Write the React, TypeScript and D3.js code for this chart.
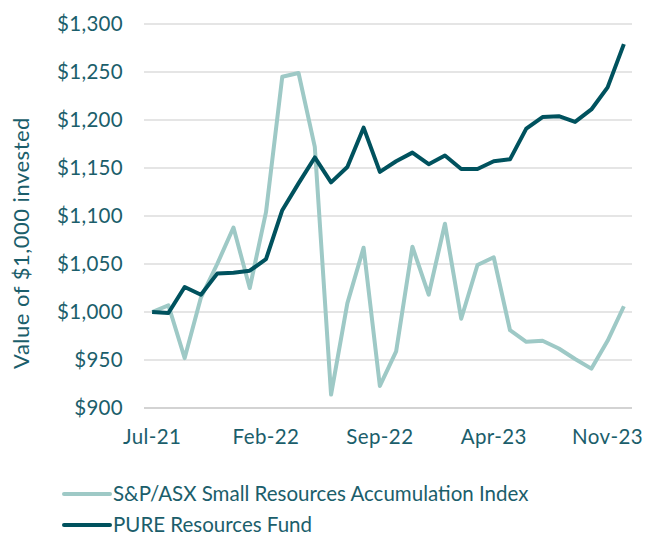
import React from "react";
import * as d3 from "d3";

const months = [
  "Jul-21","Aug-21","Sep-21","Oct-21","Nov-21","Dec-21",
  "Jan-22","Feb-22","Mar-22","Apr-22","May-22","Jun-22",
  "Jul-22","Aug-22","Sep-22","Oct-22","Nov-22","Dec-22",
  "Jan-23","Feb-23","Mar-23","Apr-23","May-23","Jun-23",
  "Jul-23","Aug-23","Sep-23","Oct-23","Nov-23","Dec-23",
];
const tickLabels = ["Jul-21", "Feb-22", "Sep-22", "Apr-23", "Nov-23"];
const indexValues = [
  1000, 1007, 952, 1015, 1050, 1088, 1025, 1104, 1245, 1249,
  1172, 914, 1009, 1067, 923, 959, 1068, 1018, 1092, 993,
  1049, 1057, 981, 969, 970, 962, 951, 941, 970, 1006,
];
const pureValues = [
  1000, 999, 1026, 1018, 1040, 1041, 1043, 1055, 1106, 1134,
  1161, 1135, 1151, 1192, 1146, 1157, 1166, 1154, 1163, 1149,
  1149, 1157, 1159, 1191, 1203, 1204, 1198, 1211, 1234, 1279,
];
const yTicks = [900, 950, 1000, 1050, 1100, 1150, 1200, 1250, 1300];
const seriesNames = ["S&P/ASX Small Resources Accumulation Index", "PURE Resources Fund"];

const W = 648, H = 540;
const TEXT = "#1b5e6b";
const DARK = "#00525e";
const LIGHT = "#9ec9c6";
const FONT = "Lato, 'Open Sans', sans-serif";

export default function App() {
  const x = d3.scalePoint<string>().domain(months).range([144, 632]).padding(0.5);
  const y = d3.scaleLinear().domain([900, 1300]).range([408, 24]);
  const line = d3.line<number>().x((_, i) => x(months[i]) as number).y((d) => y(d));
  const fmt = (v: number) => "$" + d3.format(",")(v);

  return (
    <svg width={W} height={H} style={{ position: "absolute", left: 0, top: 0, fontFamily: FONT }}>
      <rect width={W} height={H} fill="#fff" />
      {yTicks.map((t) => (
        <g key={t}>
          <line x1={144} x2={632} y1={y(t)} y2={y(t)} stroke={t === 900 ? "#c4c4c4" : "#dcdcdc"} strokeWidth={1.5} />
          <text x={123} y={y(t)} dy="0.35em" textAnchor="end" fontSize={20.5} letterSpacing={0.3} fill={TEXT}>{fmt(t)}</text>
        </g>
      ))}
      {tickLabels.map((m) => (
        <text key={m} x={x(m)} y={444} textAnchor="middle" fontSize={20.5} letterSpacing={0.4} fill={TEXT}>{m}</text>
      ))}
      <text transform={`translate(29,243) rotate(-90)`} textAnchor="middle" fontSize={22} letterSpacing={0.5} fill={TEXT}>
        Value of $1,000 invested
      </text>
      <path d={line(indexValues) as string} fill="none" stroke={LIGHT} strokeWidth={4} strokeLinejoin="round" />
      <path d={line(pureValues) as string} fill="none" stroke={DARK} strokeWidth={4} strokeLinejoin="round" />
      {seriesNames.map((s, i) => (
        <g key={s} transform={`translate(0,${494 + i * 31})`}>
          <line x1={64} x2={110} y1={0} y2={0} stroke={i === 0 ? LIGHT : DARK} strokeWidth={4} strokeLinecap="round" />
          <text x={113} y={0} dy="0.35em" fontSize={20.5} letterSpacing={0} fill={TEXT}>{s}</text>
        </g>
      ))}
    </svg>
  );
}
